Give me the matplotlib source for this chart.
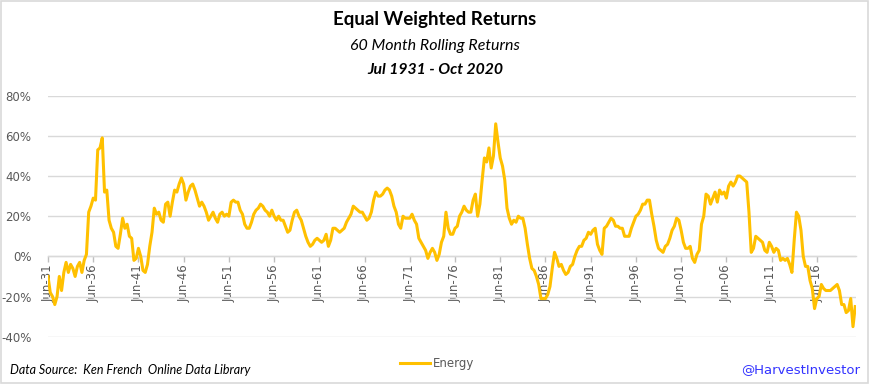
import numpy as np
import pandas as pd
import matplotlib
matplotlib.use("Agg")
import matplotlib.pyplot as plt
from matplotlib.patches import Rectangle

# ---- data (quarterly samples, Jun 1931 .. Sep 2020) ----
start_month = "1931-06"
series_name = "Energy"
returns_pct = [
    -10, -18, -20, -24, -20, -10, -17, -8, -3, -8, -4, -6, -10, -5, -3, -8, -2, 1, 22, 25,
    29, 28, 53, 54, 59, 32, 33, 18, 14, 12, 5, 4, 11, 19, 14, 16, 10, 9, -2, -1,
    4, 0, -7, -8, -4, 5, 12, 24, 21, 22, 18, 17, 26, 27, 20, 27, 33, 32, 36, 39,
    36, 28, 32, 35, 36, 33, 29, 25, 27, 25, 22, 18, 20, 22, 19, 17, 21, 22, 20, 21,
    20, 27, 28, 27, 27, 23, 21, 16, 14, 14, 17, 21, 23, 24, 26, 25, 23, 22, 20, 23,
    20, 18, 20, 18, 18, 15, 12, 13, 18, 22, 23, 20, 18, 14, 10, 7, 5, 6, 8, 9,
    8, 7, 8, 11, 5, 8, 14, 14, 13, 12, 13, 14, 17, 19, 21, 25, 24, 23, 22, 22,
    20, 18, 19, 22, 28, 32, 30, 30, 31, 33, 34, 33, 30, 25, 22, 16, 14, 20, 19, 19,
    19, 21, 18, 16, 9, 7, 5, 3, -1, 2, 4, 2, -2, 1, 7, 10, 22, 14, 11, 11,
    14, 15, 20, 22, 25, 23, 22, 22, 28, 31, 20, 26, 38, 49, 47, 54, 44, 50, 66, 57,
    49, 45, 38, 24, 19, 16, 18, 17, 20, 19, 19, 14, 6, -1, -6, -7, -10, -14, -21, -21,
    -21, -19, -15, -6, 2, -1, -5, -4, -7, -9, -8, -5, -4, 0, 3, 5, 5, 8, 9, 12,
    11, 13, 14, 6, 3, 1, 14, 15, 17, 19, 18, 15, 15, 14, 14, 10, 10, 10, 14, 17,
    20, 21, 23, 26, 26, 28, 28, 21, 15, 8, 4, 3, 2, 5, 6, 9, 13, 15, 19, 18,
    13, 7, 4, 4, 5, -1, -3, 1, 3, 16, 20, 31, 30, 26, 29, 32, 27, 33, 31, 32,
    29, 35, 37, 35, 37, 40, 40, 39, 38, 37, 22, 2, 4, 10, 9, 8, 7, 3, 2, 7,
    5, 2, 4, 3, -2, -1, -2, -1, -4, -8, 8, 22, 20, 13, 0, -5, -5, -12, -16, -26,
    -21, -20, -14, -16, -17, -17, -17, -16, -15, -14, -17, -24, -24, -28, -27, -21, -35, -25,
]
y_ticks = [-40, -20, 0, 20, 40, 60, 80]
title = "Equal Weighted Returns"
subtitle = "60 Month Rolling Returns"
period = "Jul 1931 - Oct 2020"
source_text = "Data Source:  Ken French  Online Data Library"
handle_text = "@HarvestInvestor"

dates = pd.date_range(start=start_month, periods=len(returns_pct), freq="3MS")
month_idx = (dates.year - dates[0].year) * 12 + (dates.month - dates[0].month)
all_months = pd.date_range(start=start_month, end="2020-10", freq="MS")

# ---- figure ----
W, H = 870, 384
fig = plt.figure(figsize=(W / 100, H / 100), dpi=100)
fig.patch.set_facecolor("white")
fig.add_artist(Rectangle((0.0015, 0.002), 0.996, 0.995, transform=fig.transFigure,
                         fill=False, edgecolor="#D9D9D9", linewidth=1.2))

ax = fig.add_axes([48 / W, 1 - 336.7 / H, (856 - 48) / W, (336.7 - 95.7) / H])
for s in ["top", "right", "left"]:
    ax.spines[s].set_visible(False)
ax.spines["bottom"].set_position(("data", 0))
ax.spines["bottom"].set_color("#D9D9D9")
ax.spines["bottom"].set_linewidth(1)

ax.plot(month_idx, returns_pct, color="#FFC000", linewidth=2.2, solid_joinstyle="round",
        label=series_name, zorder=3)

ax.set_ylim(-40, 80)
ax.set_xlim(0, len(all_months) - 1)
ax.set_yticks(y_ticks)
ax.set_yticklabels([f"{v}%" for v in y_ticks], color="#595959", fontsize=8.5, family="DejaVu Sans")
ax.yaxis.grid(True, color="#D9D9D9", linewidth=1)
ax.set_axisbelow(True)
ax.tick_params(axis="y", length=0, pad=12)

xt = np.arange(0, len(all_months), 60)
ax.set_xticks(xt)
ax.set_xticklabels([all_months[i].strftime("%b-%y") for i in xt], rotation=90,
                   color="#595959", fontsize=8.5, family="DejaVu Sans")
ax.tick_params(axis="x", length=4, width=1, color="#BFBFBF", pad=2, direction="out")

# ---- titles ----
fig.text(0.5, 1 - 20 / H, title, ha="center", va="center", fontsize=13.5,
         fontweight="bold", family="Lato", color="black")
fig.text(0.5, 1 - 46 / H, subtitle, ha="center", va="center", fontsize=11.5,
         style="italic", family="Lato", color="black")
fig.text(0.5, 1 - 70 / H, period, ha="center", va="center", fontsize=11.3,
         style="italic", fontweight="bold", family="Lato", color="black")

# ---- footer ----
fig.text(10 / W, 1 - 370 / H, source_text, ha="left", va="center", fontsize=9,
         style="italic", family="Lato", color="black")
fig.text(860 / W, 1 - 370 / H, handle_text, ha="right", va="center", fontsize=9.5,
         family="DejaVu Sans", color="#3333FF")
leg = fig.legend(loc="center", bbox_to_anchor=(437 / W, 1 - 364 / H), frameon=False,
                 fontsize=8.5, handlelength=2.6, handletextpad=0.2)
for t in leg.get_texts():
    t.set_color("#595959")

fig.savefig("out.png", dpi=100, facecolor="white")
